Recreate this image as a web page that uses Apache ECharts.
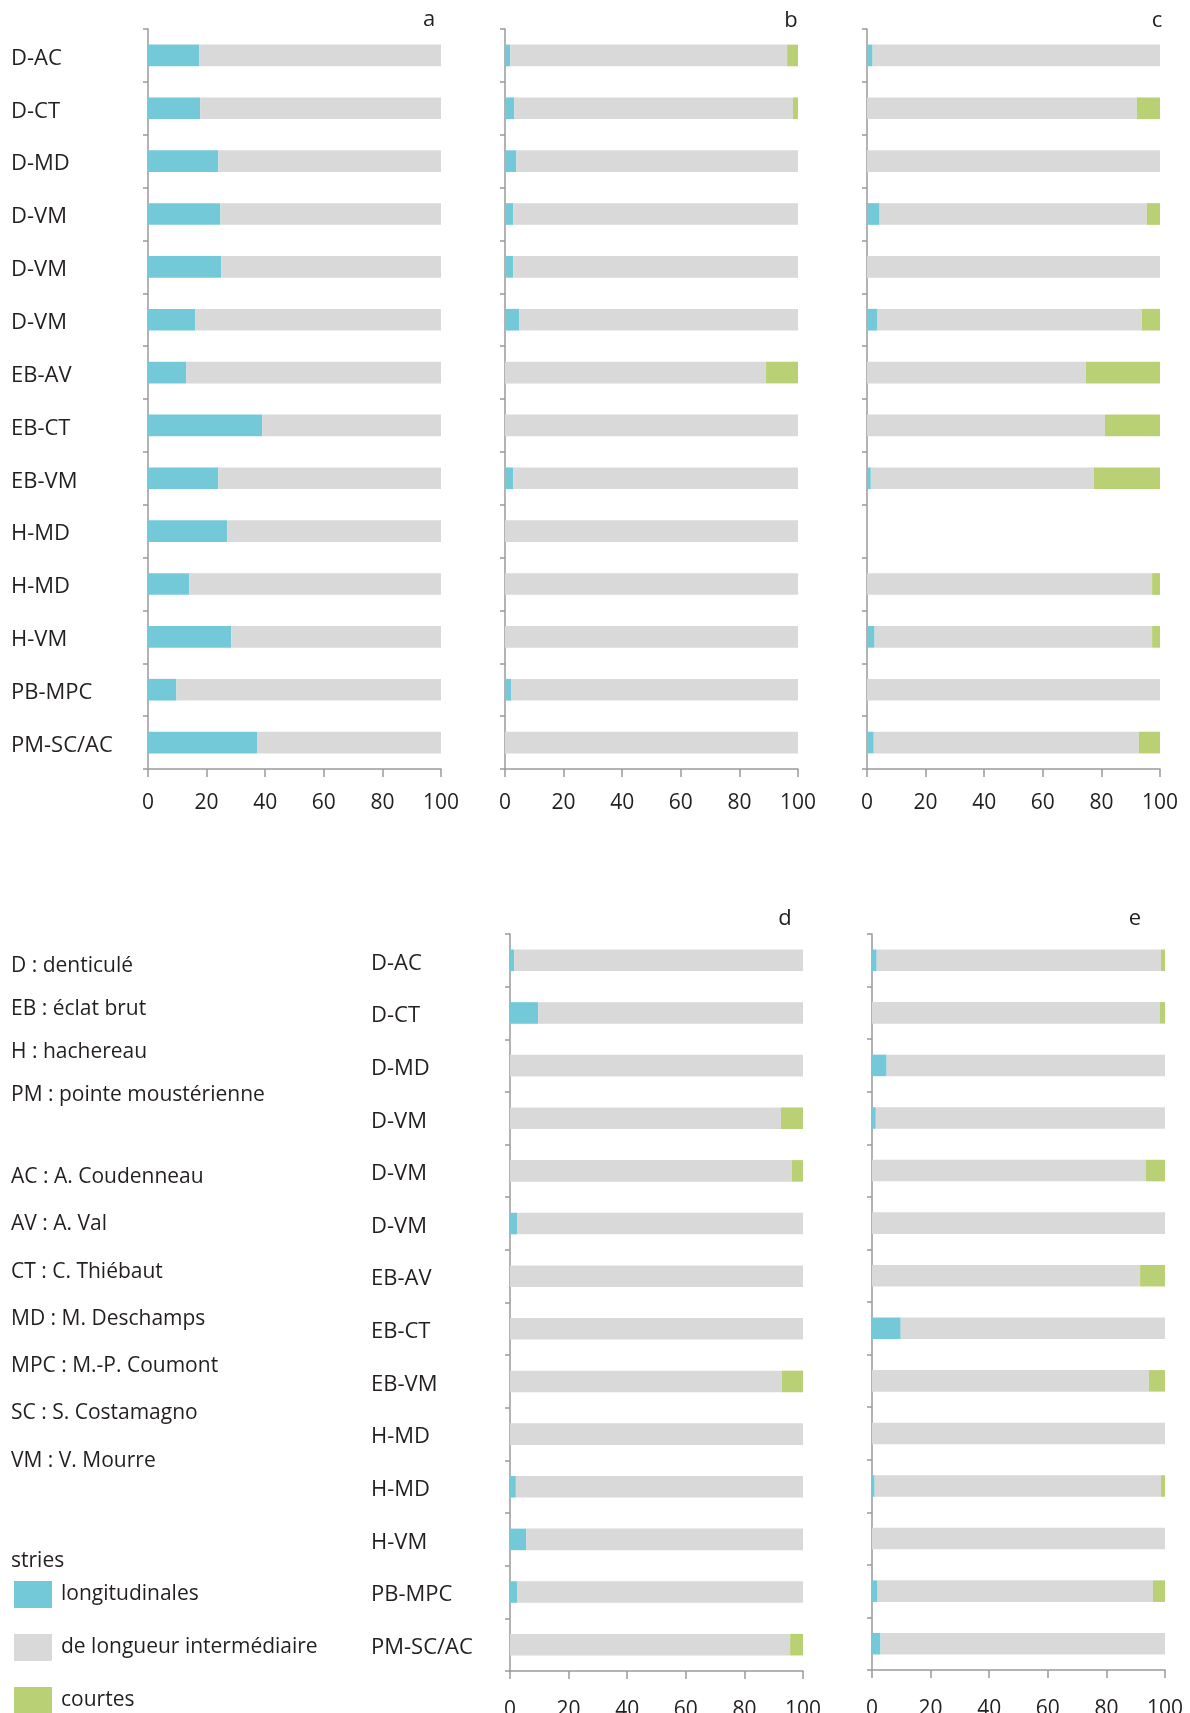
<!DOCTYPE html>
<html>
<head>
<meta charset="utf-8">
<script src="https://cdn.jsdelivr.net/npm/echarts@6/dist/echarts.min.js"></script>
<style>
  html, body { margin: 0; padding: 0; background: #ffffff; }
  #chart { width: 1190px; height: 1713px; }
</style>
</head>
<body>
<div id="chart"></div>
<script>
// Pièces (type d'outil - expérimentateur), de haut en bas
const categories = ['D-AC', 'D-CT', 'D-MD', 'D-VM', 'D-VM', 'D-VM', 'EB-AV', 'EB-CT', 'EB-VM', 'H-MD', 'H-MD', 'H-VM', 'PB-MPC', 'PM-SC/AC'];

const seriesNames = ['longitudinales', 'de longueur intermédiaire', 'courtes'];
const xTicks = [0, 20, 40, 60, 80, 100];
const panelLetters = ['a', 'b', 'c', 'd', 'e'];

// Pourcentages de stries par pièce, panneau a
const aLong = [17.5, 17.8, 24.0, 24.7, 25.0, 16.1, 13.1, 39.0, 24.0, 27.0, 14.1, 28.4, 9.7, 37.2];
const aInter = [82.5, 82.2, 76.0, 75.3, 75.0, 83.9, 86.9, 61.0, 76.0, 73.0, 85.9, 71.6, 90.3, 62.8];
const aCourt = [0, 0, 0, 0, 0, 0, 0, 0, 0, 0, 0, 0, 0, 0];

// panneau b
const bLong = [1.8, 3.2, 3.9, 2.8, 2.8, 4.9, 0, 0, 2.8, 0, 0, 0, 2.2, 0];
const bInter = [94.5, 95.1, 96.1, 97.2, 97.2, 95.1, 89.1, 100, 97.2, 100, 100, 100, 97.8, 100];
const bCourt = [3.7, 1.7, 0, 0, 0, 0, 10.9, 0, 0, 0, 0, 0, 0, 0];

// panneau c (pas de donnée pour le premier H-MD)
const cLong = [1.9, 0, 0, 4.3, 0, 3.6, 0, 0, 1.3, null, 0, 2.6, 0, 2.3];
const cInter = [98.1, 92.1, 100, 91.2, 100, 90.2, 74.7, 81.2, 76.1, null, 97.3, 94.7, 100, 90.5];
const cCourt = [0, 7.9, 0, 4.5, 0, 6.2, 25.3, 18.8, 22.6, null, 2.7, 2.7, 0, 7.2];

// panneau d
const dLong = [1.4, 9.6, 0, 0, 0, 2.4, 0, 0, 0, 0, 2.0, 5.5, 2.4, 0];
const dInter = [98.6, 90.4, 100, 92.5, 96.2, 97.6, 100, 100, 92.8, 100, 98.0, 94.5, 97.6, 95.6];
const dCourt = [0, 0, 0, 7.5, 3.8, 0, 0, 0, 7.2, 0, 0, 0, 0, 4.4];

// panneau e
const eLong = [1.6, 0, 5.0, 1.3, 0, 0, 0, 9.8, 0, 0, 0.9, 0, 1.9, 2.9];
const eInter = [97.0, 98.3, 95.0, 98.7, 93.5, 100, 91.5, 90.2, 94.5, 100, 97.7, 100, 94.0, 97.1];
const eCourt = [1.4, 1.7, 0, 0, 6.5, 0, 8.5, 0, 5.5, 0, 1.4, 0, 4.1, 0];

// Abréviations
const abbrevTypes = ['D : denticulé', 'EB : éclat brut', 'H : hachereau', 'PM : pointe moustérienne'];
const abbrevPeople = ['AC : A. Coudenneau', 'AV : A. Val', 'CT : C. Thiébaut', 'MD : M. Deschamps', 'MPC : M.-P. Coumont', 'SC : S. Costamagno', 'VM : V. Mourre'];
const legendTitle = 'stries';

const colors = ['#74c9d9', '#d9d9d9', '#b9d174'];
const FONT = '"Open Sans", "Noto Sans", sans-serif';
const TEXT = '#231f20';
const AXIS = '#9a9a9a';

const panels = [
  { data: [aLong, aInter, aCourt], grid: { left: 148, top: 29, width: 293, height: 740 }, labels: true, letter: [429, 20], tickMargin: 24 },
  { data: [bLong, bInter, bCourt], grid: { left: 505, top: 29, width: 293, height: 740 }, labels: false, letter: [791, 21], tickMargin: 24 },
  { data: [cLong, cInter, cCourt], grid: { left: 867, top: 29, width: 293, height: 740 }, labels: false, letter: [1157, 21], tickMargin: 24 },
  { data: [dLong, dInter, dCourt], grid: { left: 510, top: 934, width: 293, height: 737 }, labels: true, letter: [785, 919], tickMargin: 29 },
  { data: [eLong, eInter, eCourt], grid: { left: 872, top: 934, width: 293, height: 736 }, labels: false, letter: [1135, 919], tickMargin: 29 }
];

const grids = [], xAxes = [], yAxes = [], series = [], graphics = [];

panels.forEach((p, i) => {
  grids.push(Object.assign({ containLabel: false, outerBoundsMode: 'none' }, p.grid));
  xAxes.push({
    type: 'value', gridIndex: i, min: xTicks[0], max: xTicks[xTicks.length - 1], interval: 20,
    axisLine: { show: true, lineStyle: { color: AXIS, width: 1.5 } },
    axisTick: { show: true, length: 8, lineStyle: { color: AXIS, width: 1.5 } },
    splitLine: { show: false },
    axisLabel: { show: true, margin: p.tickMargin, color: TEXT, fontSize: 21, fontFamily: FONT }
  });
  yAxes.push({
    type: 'category', gridIndex: i, inverse: true, data: categories,
    axisLine: { show: true, lineStyle: { color: AXIS, width: 1.5 } },
    axisTick: { show: true, length: 5, alignWithLabel: false, lineStyle: { color: AXIS, width: 1.5 } },
    splitLine: { show: false },
    axisLabel: {
      show: p.labels, interval: 0, align: 'left', margin: i === 0 ? 137 : 139,
      formatter: v => '{c|' + v + '}',
      rich: { c: { color: TEXT, fontSize: 22, fontFamily: FONT, padding: [6, 0, 0, 0] } },
      color: TEXT, fontSize: 22, fontFamily: FONT
    }
  });
  p.data.forEach((vals, k) => {
    series.push({
      type: 'bar', name: seriesNames[k], stack: 'panel' + i,
      xAxisIndex: i, yAxisIndex: i, data: vals,
      barWidth: '41%', itemStyle: { color: colors[k] },
      silent: true, animation: false
    });
  });
  graphics.push({
    type: 'text', x: p.letter[0], y: p.letter[1],
    style: { text: panelLetters[i], fill: TEXT, font: '22px ' + FONT, textAlign: 'center', textVerticalAlign: 'middle' }
  });
});

// Bloc d'abréviations à gauche
abbrevTypes.forEach((t, j) => {
  graphics.push({
    type: 'text', x: 11, y: 966 + j * 43,
    style: { text: t, fill: TEXT, font: '21px ' + FONT, textVerticalAlign: 'middle' }
  });
});
abbrevPeople.forEach((t, j) => {
  graphics.push({
    type: 'text', x: 11, y: 1177 + j * 47.3,
    style: { text: t, fill: TEXT, font: '21px ' + FONT, textVerticalAlign: 'middle' }
  });
});
graphics.push({
  type: 'text', x: 11, y: 1561,
  style: { text: legendTitle, fill: TEXT, font: '21px ' + FONT, textVerticalAlign: 'middle' }
});

// Une légende par type de stries, empilées verticalement
const legendTops = [1578, 1631, 1684];
const legends = seriesNames.map((n, k) => ({
  data: [{ name: n, icon: 'rect' }],
  orient: 'vertical', left: 14, top: legendTops[k], padding: 0,
  itemWidth: 38, itemHeight: 27, itemGap: 0,
  selectedMode: false,
  textStyle: { color: TEXT, fontSize: 21, lineHeight: 27, fontFamily: FONT, padding: [6, 0, 0, 4] }
}));

const chart = echarts.init(document.getElementById('chart'), null, { renderer: 'canvas' });
chart.setOption({
  backgroundColor: '#ffffff',
  animation: false,
  textStyle: { fontFamily: FONT },
  grid: grids,
  xAxis: xAxes,
  yAxis: yAxes,
  series: series,
  legend: legends,
  graphic: graphics
});
</script>
</body>
</html>
